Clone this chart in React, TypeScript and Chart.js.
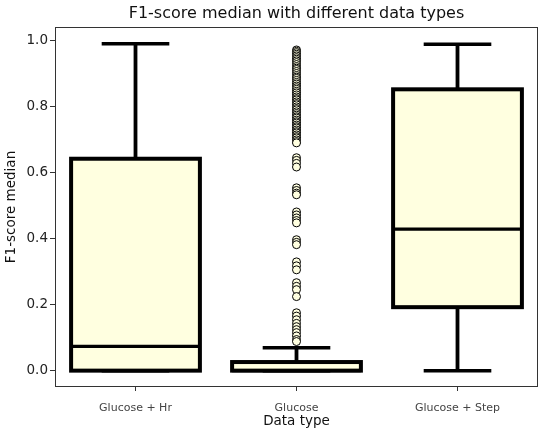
import React, { useEffect, useRef } from "react";
import { Chart, registerables } from "chart.js";

Chart.register(...registerables);

const categories = ["Glucose + Hr", "Glucose", "Glucose + Step"];
const whiskerLow = [0, 0, 0];
const q1 = [0, 0, 0.192];
const median = [0.0735, 0, 0.428];
const q3 = [0.641, 0.026, 0.851];
const whiskerHigh = [0.989, 0.069, 0.987];
const glucoseFliers = [
  0.97, 0.966, 0.962, 0.957, 0.952, 0.947, 0.942, 0.937, 0.932, 0.926, 0.92,
  0.915, 0.911, 0.905, 0.899, 0.893, 0.888, 0.884, 0.878, 0.872, 0.867, 0.861,
  0.856, 0.851, 0.845, 0.84, 0.834, 0.828, 0.823, 0.819, 0.813, 0.808, 0.804,
  0.798, 0.793, 0.789, 0.783, 0.778, 0.773, 0.768, 0.764, 0.758, 0.753, 0.749,
  0.743, 0.738, 0.734, 0.728, 0.723, 0.719, 0.713, 0.708, 0.704, 0.698, 0.693,
  0.689, 0.644, 0.636, 0.627, 0.616, 0.553, 0.545, 0.537, 0.532, 0.48, 0.471,
  0.462, 0.454, 0.447, 0.396, 0.388, 0.381, 0.329, 0.317, 0.305, 0.266, 0.255,
  0.245, 0.224, 0.175, 0.165, 0.154, 0.143, 0.133, 0.124, 0.115, 0.105, 0.094,
  0.088,
];
const yTicks = [0, 0.2, 0.4, 0.6, 0.8, 1.0];
const titleText = "F1-score median with different data types";

const FILL = "#FFFFE0";
const FONT = "'DejaVu Sans', sans-serif";

const boxPlugin = {
  id: "boxDraw",
  beforeDatasetsDraw(chart: any) {
    const { ctx, chartArea, scales } = chart;
    const xs = scales.x;
    const ys = scales.y;
    ctx.save();
    // frame
    ctx.strokeStyle = "#333";
    ctx.lineWidth = 1;
    ctx.strokeRect(chartArea.left + 0.5, chartArea.top + 0.5, chartArea.right - chartArea.left - 1, chartArea.bottom - chartArea.top - 1);
    // title centred over the plot area
    ctx.fillStyle = "#111";
    ctx.font = `16px ${FONT}`;
    ctx.textAlign = "center";
    ctx.textBaseline = "middle";
    ctx.fillText(titleText, (chartArea.left + chartArea.right) / 2, 13.5);
    for (let i = 0; i < categories.length; i++) {
      const xl = xs.getPixelForValue(i - 0.4);
      const xr = xs.getPixelForValue(i + 0.4);
      const xc = xs.getPixelForValue(i);
      const cl = xs.getPixelForValue(i - 0.21);
      const cr = xs.getPixelForValue(i + 0.21);
      const yq1 = ys.getPixelForValue(q1[i]);
      const yq3 = ys.getPixelForValue(q3[i]);
      const ymed = ys.getPixelForValue(median[i]);
      const ylo = ys.getPixelForValue(whiskerLow[i]);
      const yhi = ys.getPixelForValue(whiskerHigh[i]);
      ctx.strokeStyle = "#000";
      ctx.lineCap = "butt";
      // whiskers
      ctx.lineWidth = 3.8;
      ctx.beginPath();
      ctx.moveTo(xc, yq3);
      ctx.lineTo(xc, yhi);
      ctx.moveTo(xc, yq1);
      ctx.lineTo(xc, ylo);
      ctx.stroke();
      // caps
      ctx.lineWidth = 3.5;
      ctx.beginPath();
      ctx.moveTo(cl, yhi);
      ctx.lineTo(cr, yhi);
      ctx.moveTo(cl, ylo);
      ctx.lineTo(cr, ylo);
      ctx.stroke();
      // box
      ctx.fillStyle = FILL;
      ctx.fillRect(xl, yq3, xr - xl, yq1 - yq3);
      ctx.lineWidth = 4;
      ctx.lineJoin = "miter";
      ctx.strokeRect(xl, yq3, xr - xl, yq1 - yq3);
      // median
      ctx.lineWidth = 3.4;
      ctx.beginPath();
      ctx.moveTo(xl, ymed);
      ctx.lineTo(xr, ymed);
      ctx.stroke();
    }
    ctx.restore();
  },
};

export default function App() {
  const ref = useRef<HTMLCanvasElement | null>(null);
  useEffect(() => {
    if (!ref.current) return;
    const chart = new Chart(ref.current, {
      type: "scatter",
      data: {
        datasets: [
          {
            label: "fliers",
            data: glucoseFliers.map((v) => ({ x: 1, y: v })),
            pointRadius: 4,
            pointBorderWidth: 1,
            pointBorderColor: "#000",
            pointBackgroundColor: FILL,
            pointStyle: "circle",
          },
        ],
      },
      options: {
        animation: false,
        responsive: false,
        layout: { padding: { top: 27, right: 12, left: 0, bottom: 0 } },
        plugins: {
          legend: { display: false },
          tooltip: { enabled: false },
          title: { display: false },
        },
        scales: {
          x: {
            type: "linear",
            min: -0.5,
            max: 2.5,
            afterBuildTicks: (s: any) => {
              s.ticks = categories.map((_, i) => ({ value: i }));
            },
            afterFit: (s: any) => {
              s.height = 50;
            },
            ticks: {
              autoSkip: false,
              maxRotation: 0,
              padding: 11,
              color: "#444",
              font: { family: FONT, size: 11 },
              callback: (v: any) => categories[Math.round(Number(v))] ?? "",
            },
            grid: { drawOnChartArea: false, drawTicks: true, tickLength: 4, color: "#333" },
            border: { display: false },
            title: {
              display: true,
              text: "Data type",
              color: "#111",
              font: { family: FONT, size: 13.5 },
              padding: { top: 0, bottom: 7.2 },
            },
          },
          y: {
            type: "linear",
            min: -0.0495,
            max: 1.0395,
            afterBuildTicks: (s: any) => {
              s.ticks = yTicks.map((v) => ({ value: v }));
            },
            afterFit: (s: any) => {
              s.width = 55;
            },
            ticks: {
              padding: 2,
              color: "#222",
              font: { family: FONT, size: 13.5 },
              callback: (v: any) => Number(v).toFixed(1),
            },
            grid: { drawOnChartArea: false, drawTicks: true, tickLength: 5, color: "#333" },
            border: { display: false },
            title: {
              display: true,
              text: "F1-score median",
              color: "#111",
              font: { family: FONT, size: 13.5 },
              padding: { top: 3.2, bottom: 0 },
            },
          },
        },
      },
      plugins: [boxPlugin],
    } as any);
    return () => chart.destroy();
  }, []);
  return (
    <div style={{ position: "absolute", left: 0, top: 0, width: 550, height: 437, background: "#fff" }}>
      <canvas ref={ref} width={550} height={437} />
    </div>
  );
}
